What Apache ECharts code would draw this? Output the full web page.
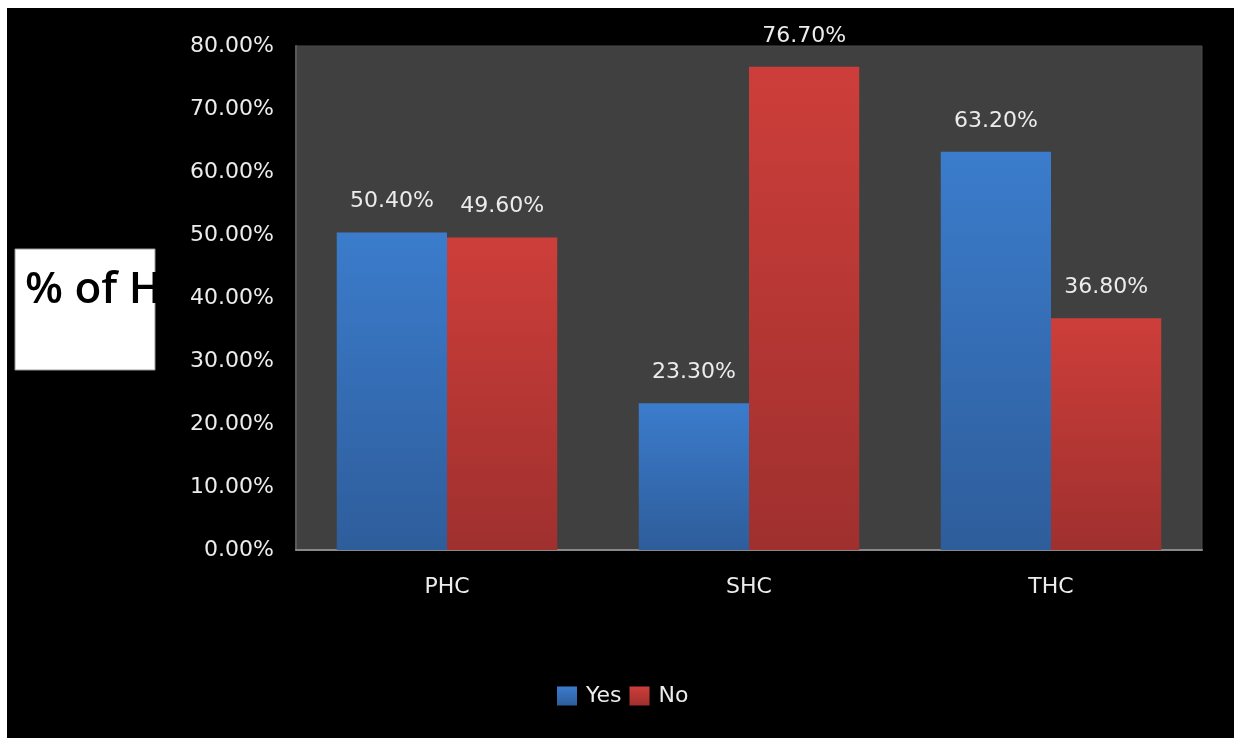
<!DOCTYPE html>
<html>
<head>
<meta charset="utf-8">
<script src="https://cdn.jsdelivr.net/npm/echarts@6/dist/echarts.min.js"></script>
<style>
  html, body { margin: 0; padding: 0; background: #fff; }
  #chart { position: absolute; left: 7px; top: 8px; width: 1227px; height: 730px; }
</style>
</head>
<body>
<div id="chart"></div>
<script>
const categories = ['PHC', 'SHC', 'THC'];
const yesValues = [50.4, 23.3, 63.2];
const noValues = [49.6, 76.7, 36.8];
const seriesNames = ['Yes', 'No'];
const yMin = 0, yMax = 80, yInterval = 10;
const axisTitle = '% of H';

const chart = echarts.init(document.getElementById('chart'));
const fmt = v => Number(v).toFixed(2) + '%';
const labelStyle = {
  show: true, position: 'top', distance: 20,
  color: '#ececec', fontFamily: 'DejaVu Sans', fontSize: 22,
  formatter: p => fmt(p.value)
};
const grad = (top, bottom) => new echarts.graphic.LinearGradient(0, 0, 0, 1, [
  { offset: 0, color: top }, { offset: 1, color: bottom }
]);

chart.setOption({
  backgroundColor: '#000',
  animation: false,
  grid: {
    left: 289, right: 32, top: 38, bottom: 188,
    show: true, backgroundColor: '#404040', borderColor: '#4a4a4a', borderWidth: 1
  },
  legend: {
    data: seriesNames,
    left: 545, top: 672,
    itemWidth: 20, itemHeight: 19, itemGap: 8,
    icon: 'rect',
    textStyle: { color: '#ececec', fontFamily: 'DejaVu Sans', fontSize: 22, padding: [0, 0, 0, 4] }
  },
  xAxis: {
    type: 'category',
    data: categories,
    axisLine: { show: true, lineStyle: { color: '#888', width: 2 } },
    axisTick: { show: false },
    axisLabel: { color: '#ececec', fontFamily: 'DejaVu Sans', fontSize: 22, margin: 26 }
  },
  yAxis: {
    type: 'value',
    min: yMin, max: yMax, interval: yInterval,
    axisLine: { show: true, lineStyle: { color: '#5a5a5a', width: 2 } },
    axisTick: { show: false },
    splitLine: { show: false },
    axisLabel: { color: '#ececec', fontFamily: 'DejaVu Sans', fontSize: 22, margin: 22, formatter: v => fmt(v) }
  },
  series: [
    {
      name: seriesNames[0], type: 'bar', data: yesValues,
      barGap: '0%', barCategoryGap: '27%',
      itemStyle: { color: grad('#3b7ccc', '#2e5d9b') },
      label: labelStyle
    },
    {
      name: seriesNames[1], type: 'bar', data: noValues,
      barGap: '0%', barCategoryGap: '27%',
      itemStyle: { color: grad('#cd3e3a', '#9f302e') },
      label: labelStyle
    }
  ],
  graphic: [
    {
      type: 'rect', z: 100,
      shape: { x: 8, y: 241, width: 140, height: 121 },
      style: { fill: '#fff', stroke: '#999', lineWidth: 1 }
    },
    {
      type: 'text', z: 101,
      x: 18, y: 282,
      style: {
        text: axisTitle, fill: '#000',
        font: '600 44px "Open Sans"',
        textVerticalAlign: 'middle', textAlign: 'left'
      }
    }
  ]
});
</script>
</body>
</html>
